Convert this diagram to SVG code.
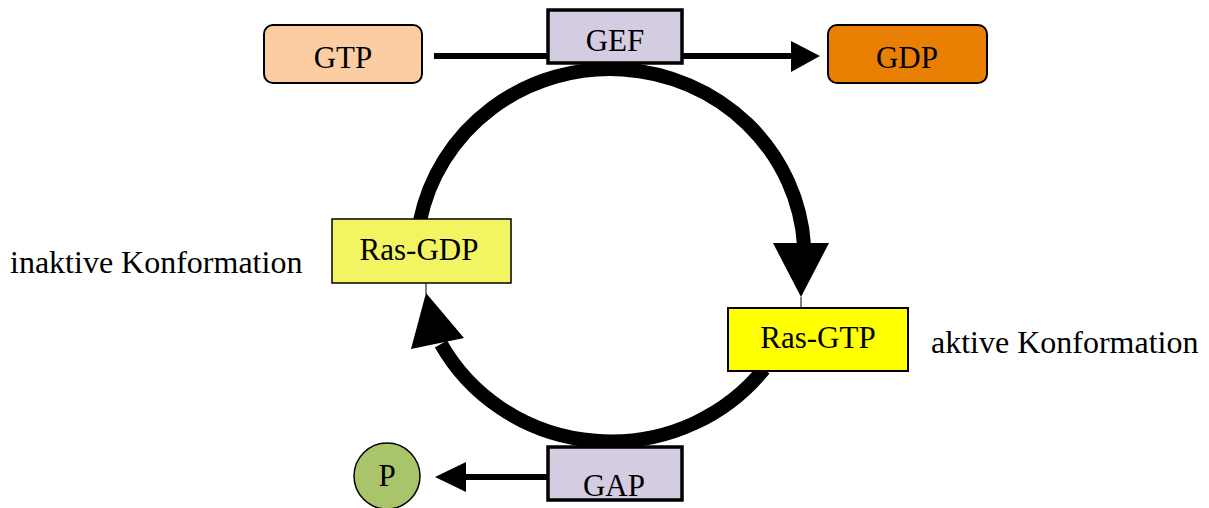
<svg xmlns="http://www.w3.org/2000/svg" width="1209" height="508" viewBox="0 0 1209 508">
<style>
text{font-family:'Liberation Serif','Times New Roman','DejaVu Serif',serif;fill:#000;text-anchor:middle}
.lbl{font-size:31px}
.side{font-size:32px;text-anchor:start}
.ring{fill:none;stroke:#000;stroke-width:14}
.ln{fill:none;stroke:#000;stroke-width:6}
.thin{stroke:#000;stroke-width:1}
.enz{fill:#D4CCE0;stroke:#000;stroke-width:3.5}
</style>
<rect width="1209" height="508" fill="#fff"/>
<g id="connectors">
<path class="ring" d="M420 221 A194 188 0 0 1 804 245"/>
<polygon points="773,243 829,243 801,297"/>
<line class="thin" x1="801" y1="297" x2="801" y2="308"/>
<path class="ring" d="M764 369 A194 188 0 0 1 441 344"/>
<polygon points="411,349 464,338 426,293"/>
<line class="thin" x1="426" y1="283" x2="426" y2="294"/>
<line class="ln" x1="434" y1="56" x2="793" y2="56"/>
<polygon points="791,41 820,56 791,72"/>
<line class="ln" x1="547" y1="477" x2="464" y2="477"/>
<polygon points="466,462 435,477 466,492"/>
</g>
<g id="gtp">
<rect x="264" y="25" width="158" height="58" rx="9" fill="#FCCDA2" stroke="#000" stroke-width="2"/>
<text class="lbl" x="343" y="68" font-family="Liberation Serif, serif">GTP</text>
</g>
<g id="gef">
<rect class="enz" x="548" y="10" width="134" height="53"/>
<text class="lbl" x="615" y="51" font-family="Liberation Serif, serif">GEF</text>
</g>
<g id="gdp">
<rect x="828" y="25" width="159" height="58" rx="9" fill="#E98003" stroke="#000" stroke-width="2"/>
<text class="lbl" x="907" y="68" font-family="Liberation Serif, serif">GDP</text>
</g>
<g id="ras-gdp">
<rect x="332" y="219" width="179" height="64" fill="#F2F462" stroke="#000" stroke-width="1.5"/>
<text class="lbl" x="419" y="260" font-family="Liberation Serif, serif">Ras-GDP</text>
</g>
<g id="ras-gtp">
<rect x="728" y="308" width="180" height="63" fill="#FFFF00" stroke="#000" stroke-width="2"/>
<text class="lbl" x="818" y="348" font-family="Liberation Serif, serif">Ras-GTP</text>
</g>
<g id="gap">
<rect class="enz" x="548" y="447" width="134" height="53"/>
<text class="lbl" x="614" y="496" font-family="Liberation Serif, serif">GAP</text>
</g>
<g id="p">
<circle cx="387" cy="476" r="33" fill="#A9C46B" stroke="#000" stroke-width="1.5"/>
<text class="lbl" x="387" y="486" font-family="Liberation Serif, serif">P</text>
</g>
<g id="labels">
<text class="side" x="10" y="273" font-family="Liberation Serif, serif">inaktive Konformation</text>
<text class="side" x="931" y="353" font-family="Liberation Serif, serif">aktive Konformation</text>
</g>
</svg>
